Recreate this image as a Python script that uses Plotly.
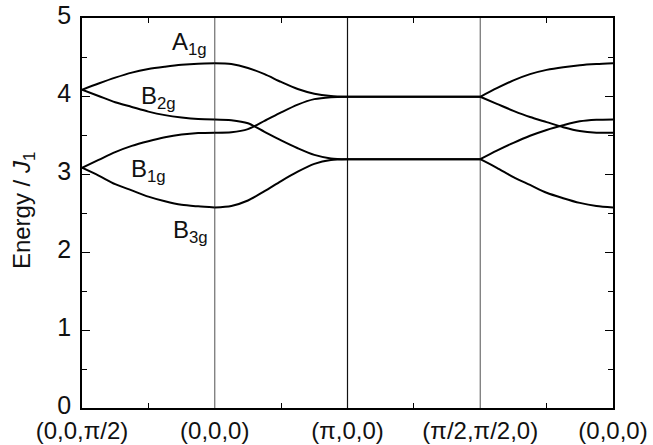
import plotly.graph_objects as go

# Path coordinate along (0,0,π/2) -> (0,0,0) -> (π,0,0) -> (π/2,π/2,0) -> (0,0,0)
K_PATH = [0.0, 0.125, 0.25, 0.375, 0.5, 0.625, 0.75, 0.875, 1.0,
          1.0, 1.125, 1.25, 1.375, 1.5, 1.625, 1.75, 1.875, 2.0,
          2.0, 3.0,
          3.0, 3.125, 3.25, 3.375, 3.5, 3.625, 3.75, 3.875, 4.0]
# index ranges of the four straight path segments
SEGMENTS = [(0, 9), (9, 18), (18, 20), (20, 29)]

# Energies (in units of J1) of the four modes along the path
A1G = [4.08, 4.16, 4.235, 4.30, 4.345, 4.375, 4.40, 4.415, 4.42,
       4.42, 4.41, 4.36, 4.28, 4.18, 4.09, 4.03, 4.00, 3.99,
       3.99, 3.99,
       3.99, 4.10, 4.20, 4.28, 4.335, 4.37, 4.395, 4.41, 4.42]
B2G = [4.08, 4.00, 3.92, 3.86, 3.80, 3.755, 3.725, 3.705, 3.70,
       3.70, 3.69, 3.65, 3.54, 3.43, 3.33, 3.245, 3.20, 3.19,
       3.19, 3.19,
       3.19, 3.30, 3.40, 3.49, 3.565, 3.625, 3.675, 3.695, 3.70]
B1G = [3.08, 3.18, 3.28, 3.36, 3.42, 3.47, 3.505, 3.525, 3.53,
       3.53, 3.535, 3.575, 3.68, 3.79, 3.89, 3.96, 3.985, 3.99,
       3.99, 3.99,
       3.99, 3.90, 3.81, 3.73, 3.665, 3.60, 3.55, 3.53, 3.53]
B3G = [3.08, 2.98, 2.87, 2.79, 2.71, 2.65, 2.605, 2.585, 2.57,
       2.57, 2.59, 2.66, 2.78, 2.91, 3.03, 3.13, 3.18, 3.19,
       3.19, 3.19,
       3.19, 3.08, 2.96, 2.86, 2.76, 2.69, 2.63, 2.59, 2.57]

BANDS = [("A1g", A1G), ("B2g", B2G), ("B1g", B1G), ("B3g", B3G)]

# High-symmetry points and their labels
K_POINTS = [0, 1, 2, 3, 4]
K_LABELS = ["(0,0,π/2)", "(0,0,0)", "(π,0,0)", "(π/2,π/2,0)", "(0,0,0)"]

# Mode labels and where they sit (path coordinate, energy)
MODE_TEXT = ["A<sub>1g</sub>", "B<sub>2g</sub>", "B<sub>1g</sub>", "B<sub>3g</sub>"]
MODE_K = [0.81, 0.575, 0.50, 0.815]
MODE_E = [4.67, 3.98, 3.05, 2.26]

FONT = "Liberation Sans, Arial, Helvetica, sans-serif"

fig = go.Figure()

for name, energies in BANDS:
    for (i0, i1) in SEGMENTS:
        fig.add_trace(go.Scatter(
            x=K_PATH[i0:i1], y=energies[i0:i1], mode="lines",
            line=dict(color="black", width=2, shape="spline", smoothing=0.8),
            name=name, showlegend=False, hoverinfo="skip"))

# vertical separators at the interior high-symmetry points
sep_colors = {1: "#6e6e6e", 2: "#111111", 3: "#6e6e6e"}
for k in K_POINTS[1:-1]:
    fig.add_shape(type="line", xref="x", yref="y", x0=k, x1=k, y0=0, y1=5,
                  line=dict(color=sep_colors[k], width=1.2), layer="below")

for txt, k, e in zip(MODE_TEXT, MODE_K, MODE_E):
    fig.add_annotation(x=k, y=e, xref="x", yref="y", text=txt, showarrow=False,
                       font=dict(family=FONT, size=24, color="#111111"),
                       xanchor="center", yanchor="middle")

fig.add_annotation(x=-0.111, y=0.505, xref="paper", yref="paper",
                   text="Energy / <i>J</i><sub>1</sub>", textangle=-90,
                   showarrow=False, xanchor="center", yanchor="middle",
                   font=dict(family=FONT, size=24, color="#111111"))

fig.update_xaxes(
    range=[0, 4], tickvals=K_POINTS, ticktext=K_LABELS, ticks="",
    showline=True, linecolor="black", linewidth=1.5, mirror="ticks",
    showgrid=False, zeroline=False, automargin=False, ticklabelstandoff=0,
    tickfont=dict(family=FONT, size=24, color="#111111"),
    minor=dict(tickvals=[0.5, 1.5, 2.5, 3.5], ticks="inside", ticklen=5,
               tickcolor="black", tickwidth=1, showgrid=False),
)
fig.update_yaxes(
    range=[0, 5], tickvals=[0, 1, 2, 3, 4, 5], ticks="inside", ticklen=8,
    tickcolor="black", tickwidth=1,
    showline=True, linecolor="black", linewidth=1.5, mirror="ticks",
    showgrid=False, zeroline=False, automargin=False, ticklabelstandoff=4,
    ticklabelshift=-3,
    tickfont=dict(family=FONT, size=25, color="#111111"),
    minor=dict(tickvals=[0.5, 1.5, 2.5, 3.5, 4.5], ticks="inside", ticklen=5,
               tickcolor="black", tickwidth=1, showgrid=False),
)

fig.update_layout(
    width=653, height=445,
    margin=dict(l=82, r=40, t=18, b=37),
    paper_bgcolor="white", plot_bgcolor="white",
    template="none", showlegend=False,
)

fig.write_html("out.html")
